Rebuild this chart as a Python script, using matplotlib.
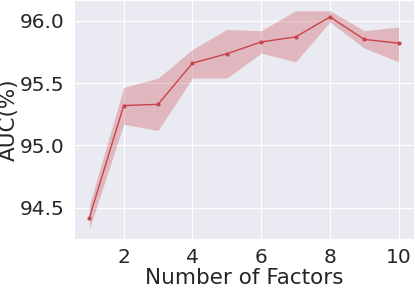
import matplotlib
matplotlib.use('Agg')
import matplotlib.pyplot as plt
import seaborn as sns
import numpy as np

sns.set_style('darkgrid')

factors = [1, 2, 3, 4, 5, 6, 7, 8, 9, 10]
auc_mean = [94.42, 95.32, 95.33, 95.66, 95.735, 95.83, 95.87, 96.03, 95.85, 95.82]
auc_low = [94.33, 95.17, 95.12, 95.54, 95.54, 95.74, 95.67, 95.99, 95.78, 95.67]
auc_high = [94.52, 95.465, 95.54, 95.77, 95.93, 95.92, 96.08, 96.08, 95.92, 95.95]

fig = plt.figure(figsize=(4.15, 2.88), dpi=100)
ax = fig.add_axes([0.178, 0.17, 0.82, 0.83])

color = '#c9444a'
ax.plot(factors, auc_mean, color=color, marker='o', markersize=2, linewidth=1)
ax.fill_between(factors, auc_low, auc_high, color=color, alpha=0.3, linewidth=0)

ax.set_ylim(94.25, 96.166)
ax.set_yticks([94.5, 95.0, 95.5, 96.0])
ax.set_xticks([2, 4, 6, 8, 10])
ax.tick_params(labelsize=14.5, pad=3)
ax.set_xlabel('Number of Factors', fontsize=15.5, labelpad=1)
ax.set_ylabel('AUC(%)', fontsize=15.5, labelpad=1)

fig.savefig('out.png', dpi=100)
